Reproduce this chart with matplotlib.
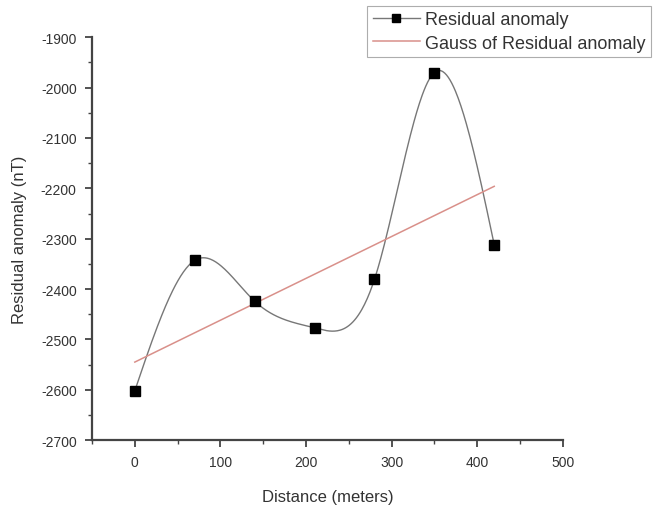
import numpy as np
import matplotlib
matplotlib.use("Agg")
import matplotlib.pyplot as plt
from matplotlib.ticker import MultipleLocator

plt.rc('font', family='Liberation Sans', size=10)
matplotlib.rcParams['axes.unicode_minus'] = False

# measured residual anomaly
distance = np.array([0, 70, 140, 210, 280, 350, 420])
residual = np.array([-2602, -2343, -2424, -2477, -2381, -1970, -2312])

# fitted line ("Gauss of Residual anomaly")
fit_x = np.array([0, 420])
fit_y = np.array([-2545, -2196])


def natural_spline(x, y, n=400):
    # plain natural cubic spline, only used to draw the connecting curve
    x = x.astype(float); y = y.astype(float)
    h = np.diff(x)
    m = len(x)
    A = np.zeros((m, m)); b = np.zeros(m)
    A[0, 0] = A[-1, -1] = 1.
    for i in range(1, m-1):
        A[i, i-1] = h[i-1]
        A[i, i] = 2*(h[i-1]+h[i])
        A[i, i+1] = h[i]
        b[i] = 6*((y[i+1]-y[i])/h[i] - (y[i]-y[i-1])/h[i-1])
    M = np.linalg.solve(A, b)
    xs = np.linspace(x[0], x[-1], n)
    k = np.clip(np.searchsorted(x, xs) - 1, 0, m-2)
    t0 = x[k+1] - xs; t1 = xs - x[k]
    ys = (M[k]*t0**3 + M[k+1]*t1**3)/(6*h[k]) \
        + (y[k]/h[k] - M[k]*h[k]/6)*t0 + (y[k+1]/h[k] - M[k+1]*h[k]/6)*t1
    return xs, ys


fig = plt.figure(figsize=(6.62, 5.10), dpi=100)
ax = fig.add_axes([0.139, 0.135, 0.711, 0.79])

xs, ys = natural_spline(distance, residual)
ax.plot(xs, ys, color='#777777', lw=1.0, zorder=2)
ax.plot(distance, residual, ls='none', marker='s', ms=7, color='black', zorder=3)
ax.plot(fit_x, fit_y, color='#d9908a', lw=1.1, zorder=2)

# legend handles
h1, = ax.plot([], [], color='#777777', lw=1.0, marker='s', ms=6,
              mfc='black', mec='black', label='Residual anomaly')
h2, = ax.plot([], [], color='#d9908a', lw=1.1, label='Gauss of Residual anomaly')
leg = ax.legend(handles=[h1, h2], loc='upper left', bbox_to_anchor=(0.585, 1.078),
                frameon=True, fancybox=False, fontsize=13, borderpad=0.3,
                handlelength=2.6, handletextpad=0.3, labelspacing=0.35,
                borderaxespad=0)
leg.get_frame().set_edgecolor('#999999')
leg.get_frame().set_linewidth(0.8)
for t in leg.get_texts():
    t.set_color('#333333')

ax.set_xlim(-50, 500)
ax.set_ylim(-2700, -1900)
ax.xaxis.set_major_locator(MultipleLocator(100))
ax.xaxis.set_minor_locator(MultipleLocator(50))
ax.yaxis.set_major_locator(MultipleLocator(100))
ax.yaxis.set_minor_locator(MultipleLocator(50))

for s in ['top', 'right']:
    ax.spines[s].set_visible(False)
for s in ['left', 'bottom']:
    ax.spines[s].set_color('#444444')
    ax.spines[s].set_linewidth(1.6)

ax.tick_params(which='major', direction='out', length=5, width=1.3,
               color='#444444', labelsize=10, labelcolor='#333333', pad=6)
ax.tick_params(which='minor', direction='out', length=3, width=1.0, color='#444444')

ax.set_xlabel('Distance (meters)', fontsize=12, color='#333333', labelpad=14)
ax.set_ylabel('Residual anomaly (nT)', fontsize=12, color='#333333', labelpad=10)

fig.savefig('out.png', dpi=100)
